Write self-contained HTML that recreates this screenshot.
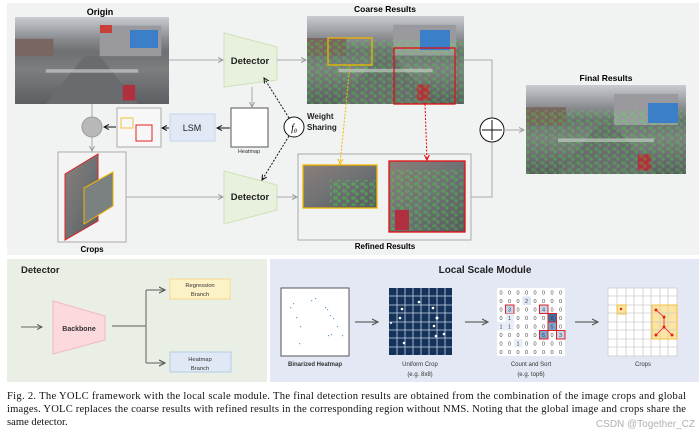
<!DOCTYPE html>
<html><head><meta charset="utf-8"><style>
body{margin:0;background:#fff;width:699px;height:438px;overflow:hidden}
svg{display:block}
.s{font-family:"Liberation Sans",sans-serif}
.cap{font-family:"Liberation Serif",serif;font-size:10.6px;fill:#111}
</style></head><body>
<svg width="699" height="438" viewBox="0 0 699 438" xmlns="http://www.w3.org/2000/svg">
<defs>
<linearGradient id="ph" x1="0" y1="0" x2="0" y2="1">
<stop offset="0" stop-color="#c8ccd0"/><stop offset="0.25" stop-color="#8a8c90"/><stop offset="0.4" stop-color="#6e6f72"/><stop offset="0.6" stop-color="#7d7e80"/><stop offset="1" stop-color="#5d5e62"/>
</linearGradient>
<linearGradient id="ph2" x1="0" y1="0" x2="1" y2="1">
<stop offset="0" stop-color="#8a7f7a"/><stop offset="0.5" stop-color="#6f7274"/><stop offset="1" stop-color="#585a5e"/>
</linearGradient>
<marker id="ag" markerWidth="6" markerHeight="6" refX="5" refY="3" orient="auto"><path d="M0,0.5 L5,3 L0,5.5" fill="none" stroke="#999" stroke-width="1"/></marker>
<marker id="ak" markerWidth="6" markerHeight="6" refX="5" refY="3" orient="auto"><path d="M0,0.5 L5,3 L0,5.5" fill="none" stroke="#111" stroke-width="1"/></marker>
<marker id="ao" markerWidth="6" markerHeight="6" refX="5" refY="3" orient="auto"><path d="M0,0.5 L5,3 L0,5.5" fill="none" stroke="#f5b800" stroke-width="1"/></marker>
<marker id="ar" markerWidth="6" markerHeight="6" refX="5" refY="3" orient="auto"><path d="M0,0.5 L5,3 L0,5.5" fill="none" stroke="#e00" stroke-width="1"/></marker>
<marker id="ad" markerWidth="6" markerHeight="6" refX="5" refY="3" orient="auto"><path d="M0,0.5 L5,3 L0,5.5" fill="none" stroke="#555" stroke-width="1"/></marker>
<pattern id="gd" width="9" height="7" patternUnits="userSpaceOnUse"><rect x="1" y="1" width="3" height="2" fill="none" stroke="#3f3" stroke-width="0.6"/><rect x="5" y="4" width="2" height="2" fill="none" stroke="#3f3" stroke-width="0.6"/></pattern>
<g id="street">
<rect x="0" y="0" width="100" height="100" fill="url(#ph)"/>
<rect x="0" y="25" width="25" height="20" fill="#7a6660"/>
<rect x="55" y="10" width="40" height="35" fill="#9a9a9e"/>
<polygon points="20,100 45,45 55,45 80,100" fill="#6a6b6e"/>
<rect x="20" y="60" width="60" height="4" fill="#d8d8d8" opacity="0.6"/>
<rect x="70" y="78" width="8" height="18" fill="#b03040"/>
</g>
</defs>
<rect x="7" y="3" width="692" height="252" fill="#f1f2f2"/>
<text x="100" y="15" class="s" font-size="9" font-weight="bold" text-anchor="middle">Origin</text>
<use href="#street" transform="translate(15,17) scale(1.54,0.87)"/>
<rect x="130" y="30" width="28" height="18" fill="#3a7fc8"/>
<rect x="100" y="25" width="12" height="8" fill="#c9403a"/>
<polygon points="224,33 277,47 277,80 224,87" fill="#e8f1dd" stroke="#cfe2b8"/>
<text x="250" y="64" class="s" font-size="9.5" font-weight="bold" text-anchor="middle" fill="#222">Detector</text>
<line x1="169" y1="60" x2="223" y2="60" stroke="#aaa" marker-end="url(#ag)"/>
<line x1="277" y1="60" x2="306" y2="60" stroke="#aaa" marker-end="url(#ag)"/>
<text x="385" y="12" class="s" font-size="8.5" font-weight="bold" text-anchor="middle">Coarse Results</text>
<use href="#street" transform="translate(307,16) scale(1.57,0.88)"/>
<rect x="307" y="40" width="157" height="64" fill="url(#gd)" opacity="0.55"/>
<rect x="420" y="30" width="30" height="20" fill="#3a7fc8"/>
<rect x="328" y="38" width="44" height="27" fill="none" stroke="#f0b400" stroke-width="1.3"/>
<rect x="394" y="48" width="61" height="56" fill="none" stroke="#e01010" stroke-width="1.3"/>
<polyline points="464,60 492,60 492,118" fill="none" stroke="#aaa"/>
<polyline points="471,197 492,197 492,142" fill="none" stroke="#aaa"/>
<circle cx="492" cy="130" r="12" fill="#fff" stroke="#111" stroke-width="1"/>
<line x1="482" y1="130" x2="502" y2="130" stroke="#111"/>
<line x1="492" y1="120" x2="492" y2="140" stroke="#111"/>
<line x1="504" y1="130" x2="524" y2="130" stroke="#aaa" marker-end="url(#ag)"/>
<text x="606" y="81" class="s" font-size="8.5" font-weight="bold" text-anchor="middle">Final Results</text>
<use href="#street" transform="translate(526,85) scale(1.6,0.89)"/>
<rect x="526" y="110" width="160" height="64" fill="url(#gd)" opacity="0.55"/>
<rect x="648" y="103" width="30" height="20" fill="#3a7fc8"/>
<line x1="252" y1="87" x2="252" y2="107" stroke="#aaa" marker-end="url(#ag)"/>
<rect x="231" y="108" width="37" height="39" fill="#fff" stroke="#555"/>
<text x="249" y="153" class="s" font-size="5.5" text-anchor="middle" fill="#333">Heatmap</text>
<line x1="230" y1="128" x2="217" y2="128" stroke="#111" marker-end="url(#ak)"/>
<rect x="170" y="114" width="45" height="27" fill="#e2e8f5" stroke="#c6d4ec"/>
<text x="192" y="131" class="s" font-size="9" text-anchor="middle" fill="#222">LSM</text>
<line x1="169" y1="128" x2="162" y2="128" stroke="#111" marker-end="url(#ak)"/>
<rect x="117" y="108" width="44" height="39" fill="#f7f7f7" stroke="#aaa"/>
<rect x="121" y="118" width="12" height="10" fill="none" stroke="#f5c040"/>
<rect x="136" y="125" width="16" height="16" fill="none" stroke="#e02020"/>
<line x1="116" y1="127" x2="104" y2="127" stroke="#111" marker-end="url(#ak)"/>
<line x1="92" y1="104" x2="92" y2="117" stroke="#aaa"/>
<circle cx="92" cy="127" r="10" fill="#b8b8b8" stroke="#999"/>
<line x1="92" y1="137" x2="92" y2="151" stroke="#aaa" marker-end="url(#ag)"/>
<rect x="58" y="152" width="68" height="90" fill="#f4f4f4" stroke="#aaa"/>
<polygon points="65,174 98,154 98,221 65,240" fill="url(#ph2)" stroke="#e02020"/>
<polygon points="84,188 113,172 113,206 84,224" fill="#7b8080" stroke="#f0b400"/>
<text x="92" y="252" class="s" font-size="8" font-weight="bold" text-anchor="middle">Crops</text>
<line x1="126" y1="197" x2="223" y2="197" stroke="#aaa" marker-end="url(#ag)"/>
<polygon points="224,171 277,185 277,210 224,224" fill="#e8f1dd" stroke="#cfe2b8"/>
<text x="250" y="200" class="s" font-size="9.5" font-weight="bold" text-anchor="middle" fill="#222">Detector</text>
<line x1="277" y1="197" x2="297" y2="197" stroke="#aaa" marker-end="url(#ag)"/>
<circle cx="294" cy="127" r="10" fill="#fff" stroke="#111"/>
<text x="294" y="131" font-family="Liberation Serif,serif" font-style="italic" font-size="10" text-anchor="middle">f<tspan font-size="6" dy="2">θ</tspan></text>
<text x="307" y="119" class="s" font-size="8" font-weight="bold" fill="#222">Weight</text>
<text x="307" y="130" class="s" font-size="8" font-weight="bold" fill="#222">Sharing</text>
<line x1="289" y1="118" x2="264" y2="78" stroke="#111" stroke-dasharray="2,1.5" marker-end="url(#ak)"/>
<line x1="289" y1="136" x2="262" y2="180" stroke="#111" stroke-dasharray="2,1.5" marker-end="url(#ak)"/>
<rect x="298" y="154" width="173" height="86" fill="none" stroke="#aaa"/>
<rect x="303" y="165" width="74" height="43" fill="url(#ph2)" stroke="#f0b400" stroke-width="1.3"/>
<rect x="330" y="180" width="45" height="26" fill="url(#gd)" opacity="0.7"/>
<rect x="389" y="161" width="76" height="71" fill="url(#ph2)" stroke="#e01010" stroke-width="1.3"/>
<rect x="391" y="170" width="72" height="60" fill="url(#gd)" opacity="0.6"/>
<rect x="395" y="210" width="14" height="20" fill="#b03040"/>
<text x="385" y="249" class="s" font-size="8" font-weight="bold" text-anchor="middle">Refined Results</text>
<line x1="350" y1="65" x2="340" y2="164" stroke="#f5b800" stroke-dasharray="2,1.5" marker-end="url(#ao)"/>
<line x1="425" y1="104" x2="427" y2="160" stroke="#e00" stroke-dasharray="2,1.5" marker-end="url(#ar)"/>

<rect x="7" y="259" width="260" height="123" fill="#e9efe4"/>
<text x="21" y="273" class="s" font-size="9.5" font-weight="bold" fill="#222">Detector</text>
<line x1="21" y1="327" x2="42" y2="327" stroke="#666" marker-end="url(#ad)"/>
<polygon points="53,301 105,316 105,340 53,354" fill="#fbd9dc" stroke="#f4b8be"/>
<text x="79" y="331" class="s" font-size="7" font-weight="bold" text-anchor="middle" fill="#333">Backbone</text>
<line x1="112" y1="326" x2="146" y2="326" stroke="#777" stroke-width="1.2"/>
<line x1="146" y1="290" x2="146" y2="363" stroke="#777" stroke-width="1.2"/>
<line x1="146" y1="290" x2="165" y2="290" stroke="#777" stroke-width="1.2" marker-end="url(#ad)"/>
<line x1="146" y1="363" x2="165" y2="363" stroke="#777" stroke-width="1.2" marker-end="url(#ad)"/>
<rect x="170" y="279" width="60" height="20" fill="#fdf2c6" stroke="#f5d98a"/>
<text x="200" y="287" class="s" font-size="5.8" text-anchor="middle" fill="#333">Regression</text>
<text x="200" y="296" class="s" font-size="5.8" text-anchor="middle" fill="#333">Branch</text>
<rect x="170" y="352" width="61" height="20" fill="#dfe8f4" stroke="#b5cbe6"/>
<text x="200" y="361" class="s" font-size="5.8" text-anchor="middle" fill="#333">Heatmap</text>
<text x="200" y="370" class="s" font-size="5.8" text-anchor="middle" fill="#333">Branch</text>

<rect x="270" y="259" width="429" height="123" fill="#e4e8f4"/>
<text x="485" y="273" class="s" font-size="10" font-weight="bold" text-anchor="middle" fill="#222">Local Scale Module</text>
<rect x="281" y="288" width="68" height="68" fill="#fff" stroke="#555"/>
<g fill="#6aa0d8">
<rect x="290" y="307" width="1.2" height="1.2"/><rect x="293" y="303" width="1.2" height="1.2"/><rect x="296" y="317" width="1.2" height="1.2"/><rect x="300" y="326" width="1.2" height="1.2"/><rect x="311" y="300" width="1.2" height="1.2"/><rect x="315" y="298" width="1.2" height="1.2"/><rect x="325" y="307" width="1.2" height="1.2"/><rect x="330" y="315" width="1.2" height="1.2"/><rect x="333" y="318" width="1.2" height="1.2"/><rect x="337" y="326" width="1.2" height="1.2"/><rect x="328" y="335" width="1.2" height="1.2"/><rect x="331" y="334" width="1.2" height="1.2"/><rect x="342" y="335" width="1.2" height="1.2"/><rect x="299" y="343" width="1.2" height="1.2"/><rect x="327" y="309" width="1.2" height="1.2"/>
</g>
<text x="315" y="366" class="s" font-size="6" font-weight="bold" text-anchor="middle" fill="#333">Binarized Heatmap</text>
<line x1="355" y1="322" x2="378" y2="322" stroke="#666" stroke-width="1.2" marker-end="url(#ad)"/>
<rect x="389" y="288" width="63" height="67" fill="#15335a"/>
<g stroke="#c8d4e4" stroke-width="0.8">
<line x1="397" y1="288" x2="397" y2="355"/><line x1="405" y1="288" x2="405" y2="355"/><line x1="413" y1="288" x2="413" y2="355"/><line x1="421" y1="288" x2="421" y2="355"/><line x1="429" y1="288" x2="429" y2="355"/><line x1="437" y1="288" x2="437" y2="355"/><line x1="445" y1="288" x2="445" y2="355"/>
<line x1="389" y1="296" x2="452" y2="296"/><line x1="389" y1="305" x2="452" y2="305"/><line x1="389" y1="313" x2="452" y2="313"/><line x1="389" y1="322" x2="452" y2="322"/><line x1="389" y1="330" x2="452" y2="330"/><line x1="389" y1="338" x2="452" y2="338"/><line x1="389" y1="347" x2="452" y2="347"/>
</g>
<g fill="#fff"><circle cx="419" cy="302" r="1.3"/><circle cx="402" cy="309" r="1.3"/><circle cx="400" cy="318" r="1.3"/><circle cx="433" cy="308" r="1.3"/><circle cx="437" cy="318" r="1.5"/><circle cx="434" cy="326" r="1.3"/><circle cx="444" cy="334" r="1.3"/><circle cx="436" cy="336" r="1.3"/><circle cx="404" cy="343" r="1.3"/><circle cx="391" cy="323" r="1"/></g>
<text x="420" y="366" class="s" font-size="6" text-anchor="middle" fill="#333">Uniform Crop</text>
<text x="420" y="376" class="s" font-size="6" text-anchor="middle" fill="#333">(e.g. 8x8)</text>
<line x1="465" y1="322" x2="488" y2="322" stroke="#666" stroke-width="1.2" marker-end="url(#ad)"/>
<rect x="497" y="288" width="68" height="68" fill="#fff"/>
<rect x="522.5" y="296.5" width="8.5" height="8.5" fill="#dbe6f3"/>
<rect x="505.5" y="305" width="8.5" height="8.5" fill="#c4d6ec" stroke="#e02020"/>
<rect x="539.5" y="305" width="8.5" height="8.5" fill="#c4d6ec" stroke="#e02020"/>
<rect x="548" y="313.5" width="8.5" height="8.5" fill="#3c6fa8" stroke="#e02020"/>
<rect x="548" y="322" width="8.5" height="8.5" fill="#7ea5d0" stroke="#e02020"/>
<rect x="539.5" y="330.5" width="8.5" height="8.5" fill="#7ea5d0" stroke="#e02020"/>
<rect x="556.5" y="330.5" width="8.5" height="8.5" fill="#c4d6ec" stroke="#e02020"/>
<rect x="505.5" y="313.5" width="8.5" height="8.5" fill="#e8eef7"/>
<rect x="497" y="322" width="17" height="8.5" fill="#e8eef7"/>
<rect x="514" y="339" width="8.5" height="8.5" fill="#e8eef7"/>
<g class="s" font-size="5.5" fill="#444" text-anchor="middle">
<text y="294.5" x="501 509.5 518 526.5 535 543.5 552 560.5">00000000</text>
<text y="303" x="501 509.5 518 526.5 535 543.5 552 560.5">00020000</text>
<text y="311.5" x="501 509.5 518 526.5 535 543.5 552 560.5">03000400</text>
<text y="320" x="501 509.5 518 526.5 535 543.5 552 560.5">01000080</text>
<text y="328.5" x="501 509.5 518 526.5 535 543.5 552 560.5">11000050</text>
<text y="337" x="501 509.5 518 526.5 535 543.5 552 560.5">00000503</text>
<text y="345.5" x="501 509.5 518 526.5 535 543.5 552 560.5">00100000</text>
<text y="354" x="501 509.5 518 526.5 535 543.5 552 560.5">00000000</text>
</g>
<text x="531" y="366" class="s" font-size="6" text-anchor="middle" fill="#333">Count and Sort</text>
<text x="531" y="376" class="s" font-size="6" text-anchor="middle" fill="#333">(e.g. top6)</text>
<line x1="575" y1="322" x2="598" y2="322" stroke="#666" stroke-width="1.2" marker-end="url(#ad)"/>
<rect x="608" y="288" width="69" height="68" fill="#fff"/>
<rect x="617" y="305" width="9" height="9" fill="#fde5a0"/>
<rect x="652" y="305" width="25" height="34" fill="#fde5a0"/>
<g stroke="#ccc" stroke-width="0.8">
<line x1="617" y1="288" x2="617" y2="356"/><line x1="626" y1="288" x2="626" y2="356"/><line x1="634" y1="288" x2="634" y2="356"/><line x1="643" y1="288" x2="643" y2="356"/><line x1="651" y1="288" x2="651" y2="356"/><line x1="660" y1="288" x2="660" y2="356"/><line x1="668" y1="288" x2="668" y2="356"/>
<line x1="608" y1="296" x2="677" y2="296"/><line x1="608" y1="305" x2="677" y2="305"/><line x1="608" y1="313" x2="677" y2="313"/><line x1="608" y1="322" x2="677" y2="322"/><line x1="608" y1="330" x2="677" y2="330"/><line x1="608" y1="339" x2="677" y2="339"/><line x1="608" y1="347" x2="677" y2="347"/>
<rect x="608" y="288" width="69" height="68" fill="none"/>
</g>
<rect x="617" y="305" width="9" height="9" fill="none" stroke="#f5c040"/>
<rect x="652" y="305" width="25" height="34" fill="none" stroke="#f5c040"/>
<circle cx="621" cy="309" r="1.2" fill="#e02020"/>
<g stroke="#e02020" stroke-width="0.8" fill="#e02020">
<line x1="656" y1="310" x2="664" y2="317"/><line x1="664" y1="317" x2="664" y2="327"/><line x1="664" y1="327" x2="656" y2="335"/><line x1="664" y1="327" x2="672" y2="335"/>
<circle cx="656" cy="310" r="1.1"/><circle cx="664" cy="317" r="1.1"/><circle cx="664" cy="327" r="1.1"/><circle cx="656" cy="335" r="1.1"/><circle cx="672" cy="335" r="1.1"/>
</g>
<text x="643" y="366" class="s" font-size="6" text-anchor="middle" fill="#333">Crops</text>

<text x="7" y="399" class="cap" textLength="679" lengthAdjust="spacing">Fig. 2.  The YOLC framework with the local scale module. The final detection results are obtained from the combination of the image crops and global</text>
<text x="7" y="412" class="cap" textLength="679" lengthAdjust="spacing">images. YOLC replaces the coarse results with refined results in the corresponding region without NMS. Noting that the global image and crops share the</text>
<text x="7" y="425" class="cap">same detector.</text>
<text x="695" y="427" class="s" font-size="10" text-anchor="end" fill="#b0b0b0">CSDN @Together_CZ</text>
</svg>
</body></html>
